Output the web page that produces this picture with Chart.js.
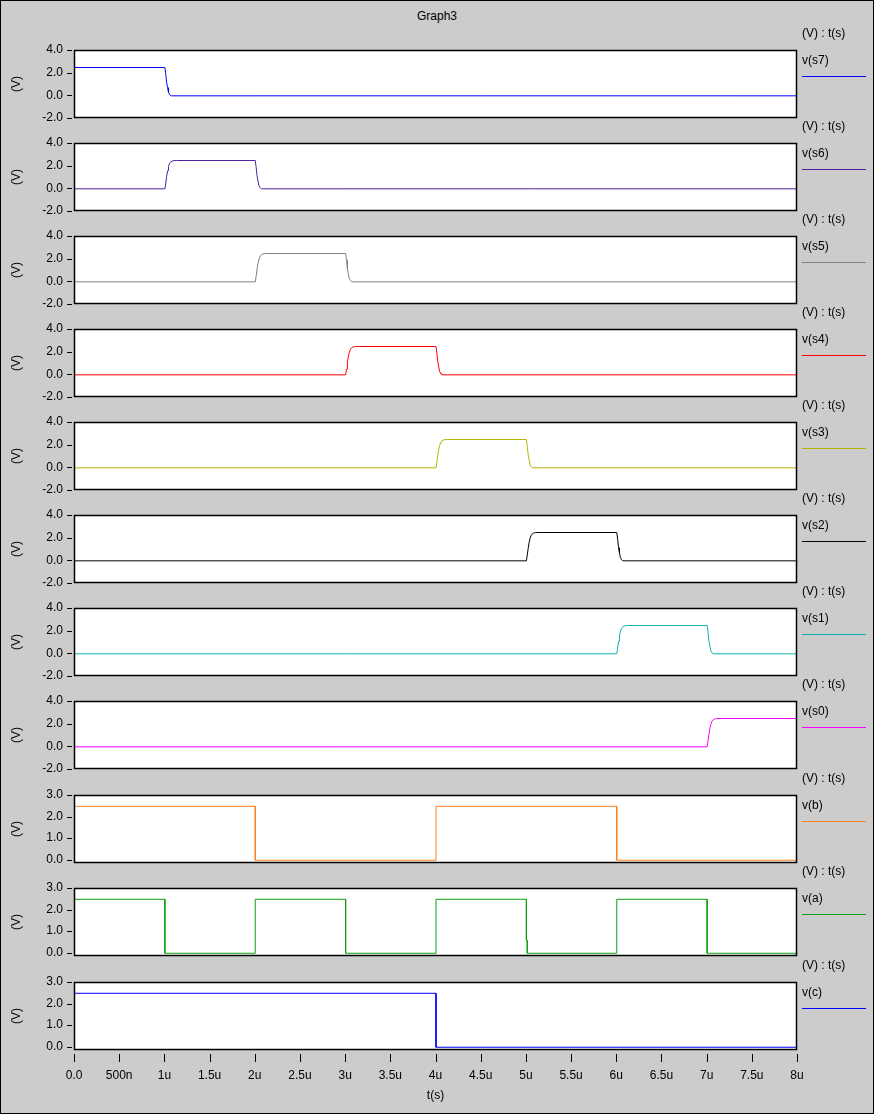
<!DOCTYPE html>
<html><head><meta charset="utf-8">
<script src="https://cdn.jsdelivr.net/npm/chart.js@4.4.1/dist/chart.umd.min.js"></script>
<style>
html,body{margin:0;padding:0;background:#cccccc;}
#wrap{position:relative;width:874px;height:1114px;overflow:hidden;font-family:"Liberation Sans",Arial,sans-serif;font-size:12px;color:#000;background:#cccccc;}
#frame{position:absolute;left:0;top:0;width:874px;height:1114px;box-sizing:border-box;border:1px solid #000;pointer-events:none;z-index:5;}
canvas{position:absolute;left:0;}
.t{position:absolute;white-space:nowrap;line-height:14px;}
.sw{position:absolute;height:1px;}
</style></head><body><div id="wrap"><div id="frame"></div></div>
<script>
// ---------- DATA (time in microseconds, voltage in volts) ----------
const chartTitle = "Graph3";
const xTickValues = [0,0.5,1,1.5,2,2.5,3,3.5,4,4.5,5,5.5,6,6.5,7,7.5,8];
const xTickLabels = ["0.0","500n","1u","1.5u","2u","2.5u","3u","3.5u","4u","4.5u","5u","5.5u","6u","6.5u","7u","7.5u","8u"];
const yTicksS = [-2,0,2,4];
const yTicksL = [0,1,2,3];
const seriesNames = ["v(s7)","v(s6)","v(s5)","v(s4)","v(s3)","v(s2)","v(s1)","v(s0)","v(b)","v(a)","v(c)"];

const s7 = [[0,2.5],[1.0,2.5],[1.01,1.9],[1.02,1.15],[1.03,0.72],[1.04,0.3],[1.05,0.15],[1.06,0.05],[1.07,0],[8,0]];
const s6 = [[0,0],[1.0,0],[1.01,0.5],[1.02,1.1],[1.03,1.6],[1.04,1.95],[1.05,2.2],[1.06,2.33],[1.08,2.45],[1.10,2.49],[1.13,2.5],
            [2.0,2.5],[2.01,1.9],[2.02,1.15],[2.03,0.72],[2.04,0.3],[2.05,0.15],[2.06,0.05],[2.07,0],[8,0]];
const s5 = [[0,0],[2.0,0],[2.01,0.5],[2.02,1.1],[2.03,1.6],[2.04,1.95],[2.05,2.2],[2.06,2.33],[2.08,2.45],[2.10,2.49],[2.13,2.5],
            [3.0,2.5],[3.01,1.9],[3.02,1.15],[3.03,0.72],[3.04,0.3],[3.05,0.15],[3.06,0.05],[3.07,0],[8,0]];
const s4 = [[0,0],[3.0,0],[3.01,0.5],[3.02,1.1],[3.03,1.6],[3.04,1.95],[3.05,2.2],[3.06,2.33],[3.08,2.45],[3.10,2.49],[3.13,2.5],
            [4.0,2.5],[4.01,1.9],[4.02,1.15],[4.03,0.72],[4.04,0.3],[4.05,0.15],[4.06,0.05],[4.07,0],[8,0]];
const s3 = [[0,0],[4.0,0],[4.01,0.5],[4.02,1.1],[4.03,1.6],[4.04,1.95],[4.05,2.2],[4.06,2.33],[4.08,2.45],[4.10,2.49],[4.13,2.5],
            [5.0,2.5],[5.01,1.9],[5.02,1.15],[5.03,0.72],[5.04,0.3],[5.05,0.15],[5.06,0.05],[5.07,0],[8,0]];
const s2 = [[0,0],[5.0,0],[5.01,0.5],[5.02,1.1],[5.03,1.6],[5.04,1.95],[5.05,2.2],[5.06,2.33],[5.08,2.45],[5.10,2.49],[5.13,2.5],
            [6.0,2.5],[6.01,1.9],[6.02,1.15],[6.03,0.72],[6.04,0.3],[6.05,0.15],[6.06,0.05],[6.07,0],[8,0]];
const s1 = [[0,0],[6.0,0],[6.01,0.5],[6.02,1.1],[6.03,1.6],[6.04,1.95],[6.05,2.2],[6.06,2.33],[6.08,2.45],[6.10,2.49],[6.13,2.5],
            [7.0,2.5],[7.01,1.9],[7.02,1.15],[7.03,0.72],[7.04,0.3],[7.05,0.15],[7.06,0.05],[7.07,0],[8,0]];
const s0 = [[0,0],[7.0,0],[7.01,0.5],[7.02,1.1],[7.03,1.6],[7.04,1.95],[7.05,2.2],[7.06,2.33],[7.08,2.45],[7.10,2.49],[7.13,2.5],[8,2.5]];
const b  = [[0,2.5],[2,2.5],[2,0],[4,0],[4,2.5],[6,2.5],[6,0],[8,0]];
const a  = [[0,2.5],[1,2.5],[1,0],[2,0],[2,2.5],[3,2.5],[3,0],[4,0],[4,2.5],[5,2.5],[5,0.6],[5.01,0.6],[5.01,0],[6,0],[6,2.5],[7,2.5],[7,0],[8,0]];
const c  = [[0,2.5],[4,2.5],[4,0],[8,0]];

// ---------- STYLE / LAYOUT ----------
const seriesData = [s7,s6,s5,s4,s3,s2,s1,s0,b,a,c];
const colors = ["#0000ff","#5020a0","#808080","#ff0000","#b4b400","#000000","#10b0b0","#ff00ff","#ff8020","#10a010","#0000ff"];
const panelTops = [50,143,236,329,422,515,608,701,795,888,982];
const PLOT_H = 68, LEFT = 74, RIGHT_PAD = 77, W = 874, X_AXIS_H = 1114 - (982 + 68);
const FONT = {family:'"Liberation Sans", Arial, sans-serif', size:12, lineHeight:1};

const wrap = document.getElementById('wrap');
function addText(txt, x, y, extra){
  const d = document.createElement('div'); d.className='t'; d.textContent = txt;
  d.style.left = x+'px'; d.style.top = y+'px'; if (extra) Object.assign(d.style, extra);
  wrap.appendChild(d); return d;
}
addText(chartTitle, 0, 9, {width:W+'px', textAlign:'center'});

const framePlugin = {
  id:'frame',
  beforeDatasetsDraw(chart){
    const {ctx, chartArea:ca} = chart;
    ctx.save(); ctx.fillStyle='#ffffff';
    ctx.fillRect(ca.left, ca.top, ca.right-ca.left, ca.bottom-ca.top);
    ctx.restore();
    ctx.save(); ctx.translate(0.5, 0.5);   // crisp 1px traces
  },
  afterDatasetsDraw(chart){ chart.ctx.restore(); },
  afterDraw(chart){
    const {ctx, chartArea:ca} = chart;
    ctx.save();
    ctx.strokeStyle='#000'; ctx.lineWidth=1.5;
    ctx.strokeRect(Math.round(ca.left)+0.5, Math.round(ca.top)+0.5, Math.round(ca.right-ca.left)-1, Math.round(ca.bottom-ca.top)-1);
    ctx.lineWidth=1;
    const ys = chart.scales.y;
    ctx.beginPath();
    ys.ticks.forEach(t=>{ const py = Math.round(ys.getPixelForValue(t.value))+0.5; ctx.moveTo(67,py); ctx.lineTo(72,py); });
    ctx.stroke();
    const xs = chart.scales.x;
    if (xs.options.display){
      ctx.beginPath();
      xs.ticks.forEach(t=>{ const px = Math.round(xs.getPixelForValue(t.value))+0.5; ctx.moveTo(px, ca.bottom+4); ctx.lineTo(px, ca.bottom+12); });
      ctx.stroke();
    }
    ctx.restore();
  }
};

function makeConfig(pts, i, isLast, isS){
  const yTicks = isS ? yTicksS : yTicksL;
  return {
    type:'line',
    data:{ datasets:[{ data: pts.map(p=>({x:p[0], y:p[1]})), borderColor: colors[i], borderWidth:1, pointRadius:0, tension:0, fill:false }] },
    options:{
      responsive:false, animation:false, devicePixelRatio:1,
      layout:{ padding:{ left:0, right:RIGHT_PAD, top:0, bottom:0 } },
      plugins:{ legend:{display:false}, tooltip:{enabled:false} },
      scales:{
        x:{ type:'linear', min:0, max:8, display:isLast,
            grid:{display:false, drawTicks:false}, border:{display:false},
            afterBuildTicks:s=>{ s.ticks = xTickValues.map(v=>({value:v})); },
            afterFit:s=>{ s.height = isLast ? X_AXIS_H : 0; },
            ticks:{ font:FONT, color:'#000', padding:20, maxRotation:0, autoSkip:false,
                    callback:(v,idx)=>xTickLabels[idx] },
            title:{ display:true, text:'t(s)', font:FONT, color:'#000', padding:{top:0,bottom:12} } },
        y:{ type:'linear', min: isS ? -2 : -0.15, max: isS ? 4 : 3,
            grid:{display:false, drawTicks:false}, border:{display:false},
            afterBuildTicks:s=>{ s.ticks = yTicks.map(v=>({value:v})); },
            afterFit:s=>{ s.width = LEFT; },
            ticks:{ font:FONT, color:'#000', padding:11, callback:v=>Number(v).toFixed(1) },
            title:{ display:true, text:'(V)', font:FONT, color:'#000', padding:{top:11,bottom:0} } }
      }
    },
    plugins:[framePlugin]
  };
}

seriesData.forEach((pts, i) => {
  const isLast = i === seriesData.length-1;
  const isS = i < 8;
  const T = panelTops[i];
  const cv = document.createElement('canvas');
  let h = 120;
  cv.width = W; cv.height = h; cv.style.width = W+'px'; cv.style.height = h+'px'; cv.style.top = '0px';
  wrap.appendChild(cv);
  // first pass: measure the automatic margins around the plot area
  let chart = new Chart(cv, makeConfig(pts, i, isLast, isS));
  const mt = chart.chartArea.top;
  const mb = chart.height - chart.chartArea.bottom;
  chart.destroy();
  // second pass: size the canvas so the plot area is exactly PLOT_H tall and starts at T
  h = Math.round(mt + PLOT_H + mb);
  cv.width = W; cv.height = h; cv.style.width = W+'px'; cv.style.height = h+'px';
  cv.style.top = Math.round(T - mt) + 'px';
  chart = new Chart(cv, makeConfig(pts, i, isLast, isS));

  addText("(V) : t(s)", 802, T-24);
  addText(seriesNames[i], 802, T+3);
  const sw = document.createElement('div'); sw.className='sw';
  sw.style.left='802px'; sw.style.top=(T+26)+'px'; sw.style.width='64px'; sw.style.background=colors[i];
  wrap.appendChild(sw);
});
</script></body></html>
